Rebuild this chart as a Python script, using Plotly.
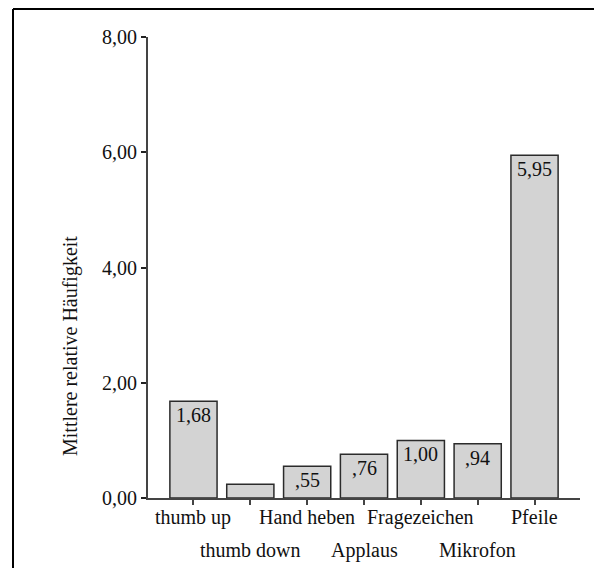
import plotly.graph_objects as go

categories = ["thumb up", "thumb down", "Hand heben", "Applaus", "Fragezeichen", "Mikrofon", "Pfeile"]
values = [1.68, 0.24, 0.55, 0.76, 1.00, 0.94, 5.95]
value_labels = ["1,68", "", ",55", ",76", "1,00", ",94", "5,95"]
y_tickvals = [0, 2, 4, 6, 8]
y_ticktext = ["0,00", "2,00", "4,00", "6,00", "8,00"]
y_title = "Mittlere relative Häufigkeit"

FONT = "Liberation Serif, Times New Roman, serif"
xs = list(range(len(categories)))

# page has an 8px body margin; figure is sized to fit inside the window
OFF = 8
W, H = 602 - 2 * OFF, 576 - 2 * OFF
PL, PR, PT, PB = 148 - OFF, 580 - OFF, 37 - OFF, 498 - OFF  # plot area in figure px
PW, PH = PR - PL, PB - PT

def px_x(px):  # page px -> paper
    return (px - OFF - PL) / PW

def px_y(py):
    return (PB - (py - OFF)) / PH

fig = go.Figure()
fig.add_trace(go.Bar(
    x=xs, y=values, width=0.83,
    marker=dict(color="#d3d3d3", line=dict(color="#2b2b2b", width=1.5)),
    hoverinfo="skip",
))

annotations = []
for i, (v, t) in enumerate(zip(values, value_labels)):
    if t:
        annotations.append(dict(x=i, y=v, xref="x", yref="y", text=t, showarrow=False,
                                yanchor="top", xanchor="center", yshift=-1,
                                font=dict(family=FONT, size=20, color="#111")))
for i, c in enumerate(categories):
    annotations.append(dict(x=i, y=0, xref="x", yref="paper", text=c, showarrow=False,
                            yanchor="middle", xanchor="center",
                            yshift=-19 if i % 2 == 0 else -52,
                            font=dict(family=FONT, size=20, color="#111")))
annotations.append(dict(x=px_x(70), y=px_y(346), xref="paper", yref="paper",
                        text=y_title, textangle=-90, showarrow=False,
                        xanchor="center", yanchor="middle",
                        font=dict(family=FONT, size=20, color="#111")))

shapes = [
    dict(type="line", xref="paper", yref="paper", x0=px_x(13), x1=1.2,
         y0=px_y(9), y1=px_y(9), line=dict(color="black", width=2)),
    dict(type="line", xref="paper", yref="paper", x0=px_x(13), x1=px_x(13),
         y0=px_y(9), y1=-0.3, line=dict(color="black", width=2)),
]

fig.update_layout(
    width=W, height=H,
    margin=dict(l=PL, r=W - PR, t=PT, b=H - PB),
    paper_bgcolor="white", plot_bgcolor="white",
    showlegend=False,
    font=dict(family=FONT, size=20, color="#111"),
    annotations=annotations, shapes=shapes,
    xaxis=dict(range=[-0.8, 6.8], tickvals=xs, ticktext=[""] * len(xs),
               showgrid=False, zeroline=False, showline=True, linecolor="#444", linewidth=2,
               ticks="outside", ticklen=5, tickcolor="#444", tickwidth=1.5, fixedrange=True),
    yaxis=dict(range=[0, 8], tickvals=y_tickvals, ticktext=y_ticktext,
               showgrid=False, zeroline=False, showline=True, linecolor="#444", linewidth=2,
               ticks="outside", ticklen=5, tickcolor="#222", tickwidth=1.5,
               tickfont=dict(family=FONT, size=20, color="#111"), fixedrange=True),
)

fig.write_html("out.html")
